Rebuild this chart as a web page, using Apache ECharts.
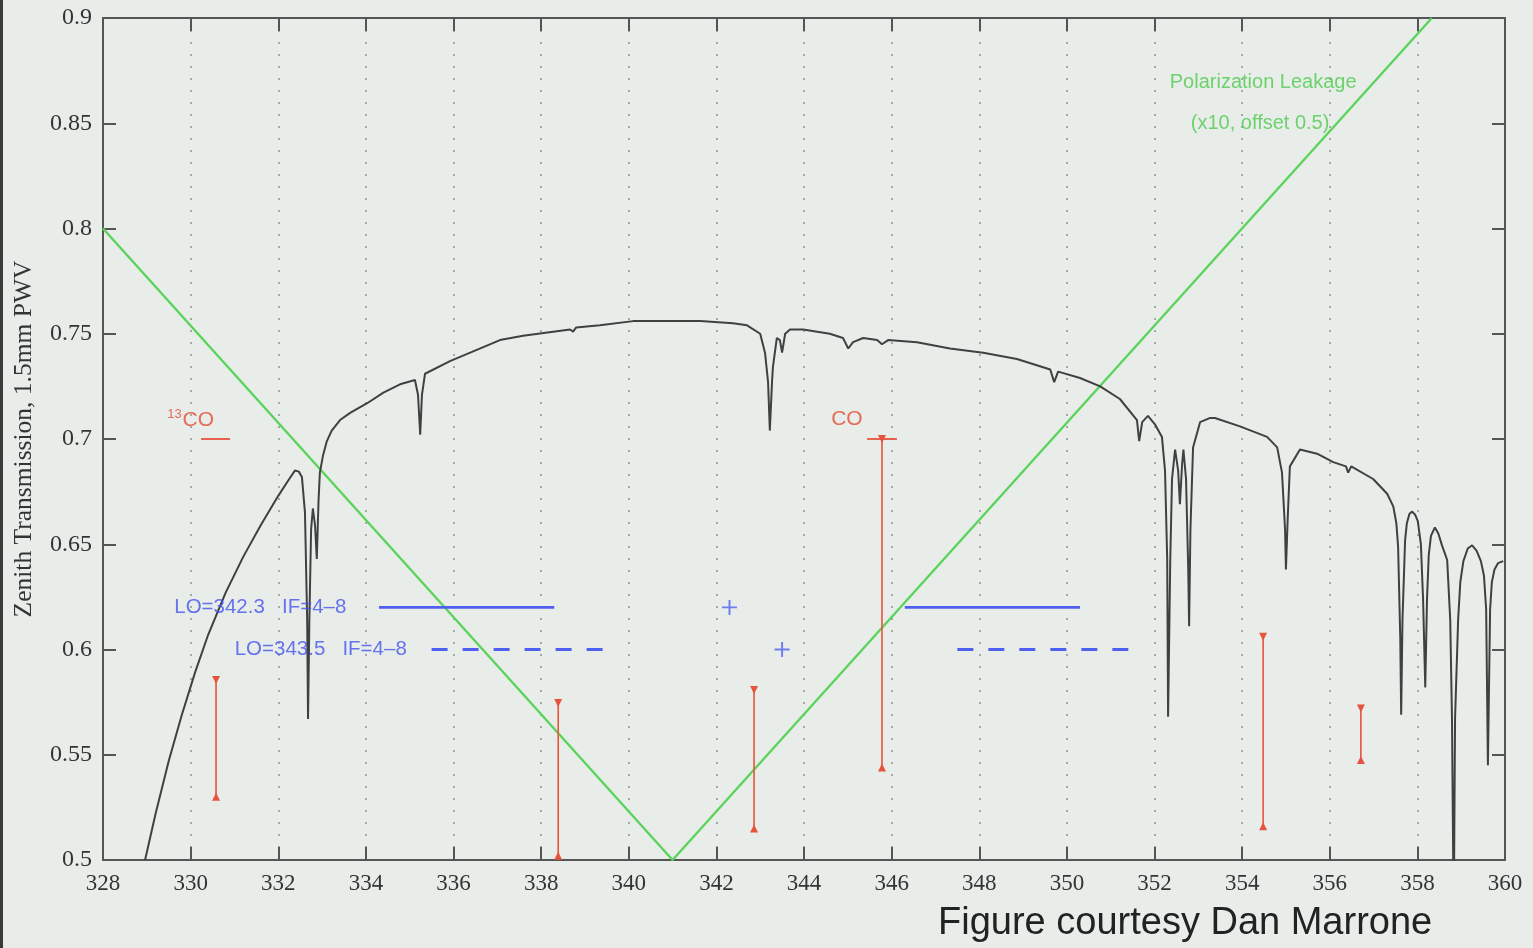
<!DOCTYPE html>
<html>
<head>
<meta charset="utf-8">
<script src="https://cdn.jsdelivr.net/npm/echarts@6/dist/echarts.min.js"></script>
<style>
html,body{margin:0;padding:0;background:#e9edea;}
#chart{width:1533px;height:948px;}
</style>
</head>
<body>
<div id="chart"></div>
<script>
// ---- Data ----
// Atmospheric zenith transmission (1.5mm PWV), frequency in GHz
const transFreq = [328.96,329.2,329.5,329.8,330.1,330.4,330.8,331.2,331.6,332.0,332.25,332.38,332.47,332.54,332.61,332.66,332.68,332.71,332.75,332.79,332.84,332.88,332.92,332.95,333.02,333.11,333.22,333.41,333.65,334.03,334.4,334.78,335.12,335.19,335.24,335.28,335.35,335.92,336.49,337.06,337.59,338.66,338.73,338.80,339.34,340.10,340.71,341.63,342.38,342.70,343.00,343.11,343.18,343.22,343.27,343.29,343.38,343.45,343.50,343.57,343.68,343.98,344.59,344.89,345.01,345.12,345.35,345.67,345.78,345.92,346.58,347.33,348.09,348.86,349.62,349.71,349.80,350.30,350.76,351.21,351.60,351.65,351.72,351.85,352.01,352.17,352.24,352.29,352.31,352.36,352.40,352.47,352.54,352.58,352.63,352.66,352.72,352.77,352.79,352.82,352.88,353.04,353.27,353.38,353.95,354.57,354.80,354.91,354.98,355.00,355.04,355.09,355.32,355.71,356.08,356.37,356.42,356.49,356.99,357.31,357.45,357.52,357.56,357.61,357.63,357.66,357.72,357.76,357.82,357.88,357.95,358.01,358.08,358.13,358.18,358.22,358.26,358.31,358.40,358.48,358.56,358.68,358.75,358.79,358.83,358.86,358.93,358.98,359.05,359.15,359.25,359.35,359.45,359.52,359.57,359.61,359.66,359.70,359.76,359.84,359.96];
const transValue = [0.500,0.522,0.547,0.569,0.589,0.607,0.627,0.644,0.659,0.673,0.681,0.685,0.6845,0.682,0.665,0.614,0.567,0.614,0.657,0.667,0.659,0.643,0.671,0.684,0.692,0.699,0.704,0.709,0.7125,0.717,0.722,0.726,0.728,0.721,0.702,0.721,0.731,0.737,0.742,0.747,0.749,0.752,0.751,0.753,0.754,0.756,0.756,0.756,0.755,0.754,0.750,0.741,0.727,0.704,0.727,0.734,0.748,0.747,0.741,0.750,0.752,0.752,0.750,0.748,0.743,0.746,0.748,0.747,0.745,0.747,0.746,0.743,0.741,0.738,0.733,0.727,0.732,0.729,0.725,0.719,0.709,0.699,0.708,0.711,0.707,0.701,0.685,0.643,0.568,0.643,0.681,0.695,0.685,0.669,0.688,0.695,0.681,0.638,0.611,0.657,0.696,0.708,0.710,0.710,0.706,0.701,0.696,0.684,0.657,0.638,0.662,0.687,0.695,0.693,0.689,0.687,0.684,0.687,0.681,0.674,0.668,0.660,0.649,0.605,0.569,0.614,0.652,0.660,0.6645,0.6655,0.664,0.661,0.650,0.624,0.582,0.624,0.645,0.654,0.658,0.655,0.6496,0.6425,0.614,0.567,0.470,0.567,0.614,0.632,0.642,0.648,0.6495,0.647,0.642,0.635,0.619,0.545,0.619,0.632,0.638,0.641,0.642];

// Polarization leakage (x10, offset 0.5)
const leakFreq = [328, 341.0, 358.33];
const leakValue = [0.8, 0.5, 0.9];

// Red line markers (vertical bars)
const barFreq = [330.58, 338.39, 342.86, 345.78, 354.48, 356.71];
const barTop = [0.5855, 0.5746, 0.5808, 0.700, 0.606, 0.572];
const barBottom = [0.530, 0.502, 0.515, 0.544, 0.516, 0.5475];

// Red horizontal markers for 13CO and CO
const lineMarkFrom = [330.24, 345.44];
const lineMarkTo = [330.90, 346.12];
const lineMarkValue = [0.700, 0.700];

// IF bands for two LO settings
const loFreq = [342.3, 343.5];
const loLevel = [0.620, 0.600];
const ifLow = 4, ifHigh = 8;

// Tick labels
const xTicks = [328,330,332,334,336,338,340,342,344,346,348,350,352,354,356,358,360];
const yTicks = [0.5,0.55,0.6,0.65,0.7,0.75,0.8,0.85,0.9];

// Annotation texts
const annoText = ['13CO', 'CO', 'LO=342.3   IF=4\u20138', 'LO=343.5   IF=4\u20138', 'Polarization Leakage', '(x10, offset 0.5)'];
const annoFreq = [330.0, 344.98, 331.59, 332.97, 354.48, 354.41];
const annoValue = [0.709, 0.7095, 0.620, 0.600, 0.8696, 0.8497];

// ---- Styles ----
const RED = '#e8533d', BLUE = '#4f5ff0', GREEN = '#5cd35c', CURVE = '#404040', AXIS = '#555';
const TEXT_RED = '#e54a33', TEXT_BLUE = '#4253ee', TEXT_GREEN = '#4ccb4c';
const SANS = '"Liberation Sans", Arial, Helvetica, sans-serif';
const SERIF = '"Liberation Serif", "Times New Roman", serif';

const series = [];
series.push({
  type: 'line', name: 'transmission', data: transFreq.map((f,i)=>[f, transValue[i]]),
  showSymbol: false, symbol: 'none', lineStyle: {color: CURVE, width: 2}, z: 3, silent: true
});
series.push({
  type: 'line', name: 'leakage', data: leakFreq.map((f,i)=>[f, leakValue[i]]),
  showSymbol: false, symbol: 'none', lineStyle: {color: GREEN, width: 2.4}, z: 2, silent: true
});
barFreq.forEach((f,i)=>{
  series.push({
    type: 'line', data: [
      {value:[f, barTop[i]], symbolRotate: 180},
      {value:[f, barBottom[i]], symbolRotate: 0}
    ],
    symbol: 'triangle', symbolSize: [8,8], showSymbol: true,
    itemStyle: {color: RED}, lineStyle: {color: RED, width: 1.6}, z: 4, silent: true
  });
});
lineMarkFrom.forEach((f,i)=>{
  series.push({
    type: 'line', data: [[f, lineMarkValue[i]], [lineMarkTo[i], lineMarkValue[i]]],
    symbol: 'none', lineStyle: {color: RED, width: 1.8}, z: 4, silent: true
  });
});
loFreq.forEach((lo,i)=>{
  const dashed = i === 1;
  [[lo-ifHigh, lo-ifLow],[lo+ifLow, lo+ifHigh]].forEach(seg=>{
    series.push({
      type: 'line', data: [[seg[0], loLevel[i]], [seg[1], loLevel[i]]],
      symbol: 'none', lineStyle: {color: BLUE, width: 2.8, type: dashed ? [16,15] : 'solid'}, z: 4, silent: true
    });
  });
});
series.push({
  type: 'scatter', data: loFreq.map((lo,i)=>[lo, loLevel[i]]),
  symbol: 'path://M6.1,0h1.8v6.1h6.1v1.8h-6.1v6.1h-1.8v-6.1h-6.1v-1.8h6.1z', symbolSize: 15,
  itemStyle: {color: BLUE}, z: 5, silent: true
});
const annoColors = [TEXT_RED, TEXT_RED, TEXT_BLUE, TEXT_BLUE, TEXT_GREEN, TEXT_GREEN];
const annoSizes = [21, 21, 20.5, 20.5, 20, 20];
series.push({
  type: 'scatter', symbolSize: 0, silent: true, z: 6,
  data: annoText.map((t,i)=>({
    value: [annoFreq[i], annoValue[i]],
    label: {
      show: true, position: 'inside', align: 'center', verticalAlign: 'middle',
      formatter: i === 0 ? '{sup|13}{b|CO}' : t,
      color: annoColors[i], fontFamily: SANS, fontSize: annoSizes[i],
      rich: i === 0 ? {
        sup: {fontSize: 13, color: TEXT_RED, fontFamily: SANS, padding: [0,1,11,0]},
        b: {fontSize: 21, color: TEXT_RED, fontFamily: SANS}
      } : undefined
    }
  }))
});

const axisLineStyle = {show: true, lineStyle: {color: AXIS, width: 2}};
const tickStyle = {show: true, inside: true, length: 13, lineStyle: {color: AXIS, width: 2}};

const option = {
  backgroundColor: '#e9edea',
  animation: false,
  title: {
    text: 'Figure courtesy Dan Marrone', left: 933, top: 900,
    textStyle: {fontFamily: SANS, fontSize: 38, fontWeight: 'normal', color: '#222'}
  },
  graphic: [{type: 'rect', left: 0, top: 0, shape: {width: 3, height: 948}, style: {fill: '#3a3a3a'}, silent: true}],
  grid: {left: 103, right: 28, top: 18, bottom: 88, containLabel: false, outerBoundsMode: 'none'},
  xAxis: [
    {
      type: 'value', min: 328, max: 360, interval: 2, position: 'bottom',
      axisLine: axisLineStyle, axisTick: tickStyle,
      axisLabel: {show: true, fontFamily: SERIF, fontSize: 23, color: '#333', margin: 12,
        formatter: v => xTicks.includes(v) ? String(v) : ''},
      splitLine: {show: true, lineStyle: {color: '#a5a8a6', width: 2, type: [2, 10]}}
    },
    {
      type: 'value', min: 328, max: 360, interval: 2, position: 'top',
      axisLine: axisLineStyle, axisTick: tickStyle, axisLabel: {show: false}, splitLine: {show: false}
    }
  ],
  yAxis: [
    {
      type: 'value', min: 0.5, max: 0.9, interval: 0.05, position: 'left',
      axisLine: axisLineStyle, axisTick: tickStyle,
      axisLabel: {show: true, fontFamily: SERIF, fontSize: 24, color: '#333', margin: 11,
        formatter: v => { const t = yTicks.find(y => Math.abs(y - v) < 1e-6); return t === undefined ? '' : String(t); }},
      splitLine: {show: false},
      name: 'Zenith Transmission, 1.5mm PWV', nameLocation: 'middle', nameGap: 66, nameRotate: 90,
      nameTextStyle: {fontFamily: SERIF, fontSize: 25.5, color: '#333'}
    },
    {
      type: 'value', min: 0.5, max: 0.9, interval: 0.05, position: 'right',
      axisLine: axisLineStyle, axisTick: tickStyle, axisLabel: {show: false}, splitLine: {show: false}
    }
  ],
  series: series
};

const chart = echarts.init(document.getElementById('chart'), null, {renderer: 'canvas'});
chart.setOption(option);
</script>
</body>
</html>
